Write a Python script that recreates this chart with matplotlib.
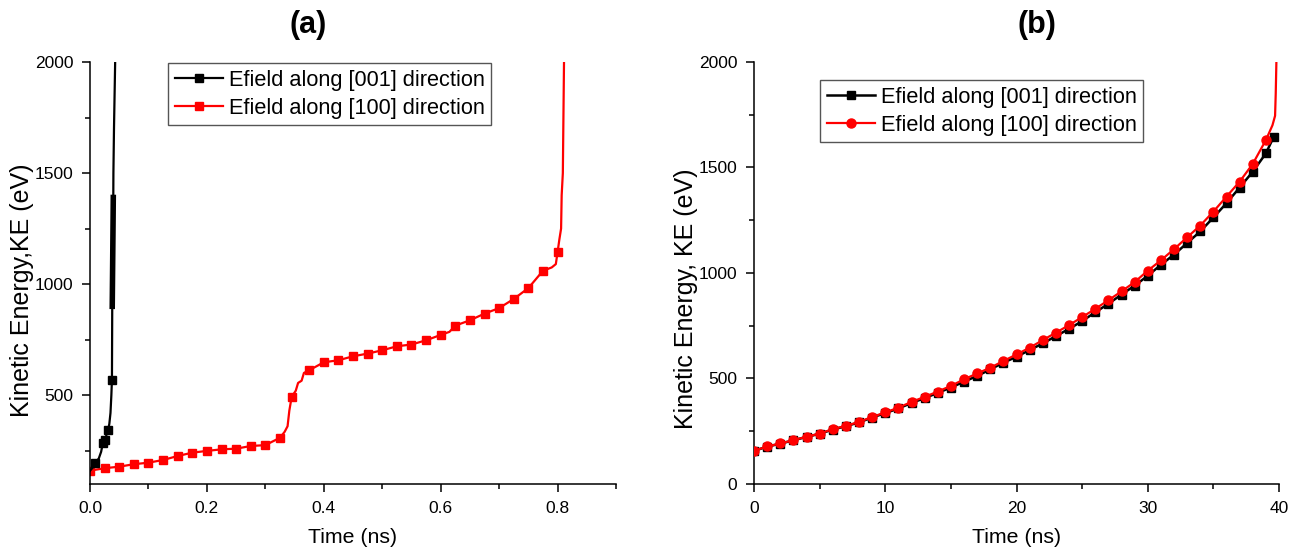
import numpy as np
import matplotlib.pyplot as plt
from matplotlib.ticker import MultipleLocator

plt.rcParams['font.family'] = ['Liberation Sans', 'DejaVu Sans']

# ---- panel (a): KE vs time, short time scale ----
a001_t = [0.0, 0.005, 0.009, 0.015, 0.019, 0.022, 0.026, 0.029, 0.031, 0.033, 0.035,
          0.0365, 0.0375, 0.038, 0.0383, 0.0386, 0.0389, 0.0392, 0.0395, 0.0398,
          0.040, 0.041, 0.042, 0.043]
a001_ke = [160, 175, 195, 215, 245, 285, 300, 330, 345, 370, 420,
           500, 570, 900, 980, 1060, 1140, 1220, 1300, 1390,
           1500, 1700, 1850, 2000]
a001_mark_t = [0.009, 0.022, 0.026, 0.031, 0.0375]
a001_dense = (0.038, 0.0398)   # densely sampled stretch drawn thicker

a100_t = [0.0, 0.025, 0.05, 0.075, 0.1, 0.125, 0.15, 0.175, 0.2, 0.225, 0.25, 0.275,
          0.3, 0.325, 0.333, 0.338, 0.341, 0.345, 0.352, 0.356, 0.362, 0.366, 0.375,
          0.4, 0.425, 0.45, 0.475, 0.5, 0.525, 0.55, 0.575, 0.6, 0.615, 0.625, 0.65,
          0.675, 0.7, 0.725, 0.75, 0.775, 0.79, 0.797, 0.8, 0.803, 0.806, 0.807,
          0.809, 0.811]
a100_ke = [160, 171, 178, 189, 196, 208, 226, 241, 249, 256, 259, 271,
           275, 308, 335, 360, 430, 492, 520, 555, 565, 600, 612,
           648, 657, 675, 687, 702, 720, 728, 747, 771, 785, 813, 837,
           867, 892, 933, 982, 1060, 1075, 1090, 1144, 1200, 1250, 1400,
           1500, 2000]
a100_mark_t = [0.0, 0.025, 0.05, 0.075, 0.1, 0.125, 0.15, 0.175, 0.2, 0.225, 0.25,
               0.275, 0.3, 0.325, 0.345, 0.375, 0.4, 0.425, 0.45, 0.475, 0.5, 0.525,
               0.55, 0.575, 0.6, 0.625, 0.65, 0.675, 0.7, 0.725, 0.75, 0.775, 0.8]

# ---- panel (b): KE vs time, long time scale ----
b001_t = list(range(40)) + [39.6]
b001_ke = [157, 177, 191, 207, 223, 238, 258, 274, 292, 315, 336, 358, 384, 407, 432,
           457, 485, 512, 543, 575, 603, 635, 666, 701, 735, 772, 814, 854, 898, 940,
           987, 1039, 1087, 1142, 1197, 1263, 1331, 1405, 1480, 1567, 1646]
b001_mark_t = b001_t

b100_t = list(range(40)) + [39.5, 39.7, 39.75, 39.8]
b100_ke = [157, 178, 192, 208, 224, 239, 260, 276, 294, 318, 339, 362, 389, 413, 438,
           465, 496, 524, 551, 583, 614, 646, 682, 717, 753, 791, 830, 871, 913, 957,
           1011, 1060, 1113, 1169, 1225, 1291, 1362, 1433, 1517, 1630, 1700, 1745,
           1850, 2000]
b100_mark_t = list(range(40))

LABEL_001 = "Efield along [001] direction"
LABEL_100 = "Efield along [100] direction"


def marks(t, mark_t):
    return list(np.flatnonzero(np.isin(np.array(t), np.array(mark_t))))


def style_axes(ax):
    for side in ("top", "right"):
        ax.spines[side].set_visible(False)
    for side in ("left", "bottom"):
        ax.spines[side].set_linewidth(1.1)
    ax.tick_params(which="major", direction="out", length=6, width=1.1,
                   labelsize=12.5, pad=6)
    ax.tick_params(which="minor", direction="out", length=3.5, width=1.1)


def add_legend(ax, x_px, y_px):
    ax.legend(loc="upper left", bbox_to_anchor=(x_px / 1301, 1 - y_px / 553),
              bbox_transform=fig.transFigure, fontsize=15.7, fancybox=False,
              edgecolor="#555555", framealpha=1, handlelength=2.2,
              borderpad=0.3, labelspacing=0.32, handletextpad=0.3,
              borderaxespad=0)


fig = plt.figure(figsize=(13.01, 5.53), dpi=100)
ax_a = fig.add_axes([0.0692, 0.1248, 0.4043, 0.7631])
ax_b = fig.add_axes([0.5796, 0.1248, 0.4035, 0.7631])

# (a)
ax_a.plot(a001_t, a001_ke, color="black", lw=1.6, marker="s", ms=5.5,
          markevery=marks(a001_t, a001_mark_t), label=LABEL_001, zorder=3)
t_arr = np.array(a001_t)
dense = (t_arr >= a001_dense[0]) & (t_arr <= a001_dense[1])
ax_a.plot(t_arr[dense], np.array(a001_ke)[dense], color="black", lw=4, zorder=3)
ax_a.plot(a100_t, a100_ke, color="red", lw=1.6, marker="s", ms=5.5,
          markevery=marks(a100_t, a100_mark_t), label=LABEL_100, zorder=2)

ax_a.set_xlim(0, 0.9)
ax_a.set_ylim(100, 2000)
ax_a.xaxis.set_major_locator(MultipleLocator(0.2))
ax_a.xaxis.set_minor_locator(MultipleLocator(0.1))
ax_a.yaxis.set_major_locator(MultipleLocator(500))
ax_a.yaxis.set_minor_locator(MultipleLocator(250))
ax_a.set_yticks([500, 1000, 1500, 2000])
ax_a.set_xlabel("Time (ns)", fontsize=15.3, labelpad=9)
ax_a.set_ylabel("Kinetic Energy,KE (eV)", fontsize=18)
ax_a.yaxis.set_label_coords(-0.107, 0.46)
style_axes(ax_a)
add_legend(ax_a, 168, 63)
fig.text(308 / 1301, 1 - 25 / 553, "(a)", fontsize=22, fontweight="bold",
         ha="center", va="center")

# (b)
ax_b.plot(b001_t, b001_ke, color="black", lw=1.8, marker="s", ms=6,
          markevery=marks(b001_t, b001_mark_t), label=LABEL_001, zorder=2)
ax_b.plot(b100_t, b100_ke, color="red", lw=1.6, marker="o", ms=6.5,
          markevery=marks(b100_t, b100_mark_t), label=LABEL_100, zorder=3)

ax_b.set_xlim(0, 40)
ax_b.set_ylim(0, 2000)
ax_b.xaxis.set_major_locator(MultipleLocator(10))
ax_b.xaxis.set_minor_locator(MultipleLocator(5))
ax_b.yaxis.set_major_locator(MultipleLocator(500))
ax_b.yaxis.set_minor_locator(MultipleLocator(250))
ax_b.set_xlabel("Time (ns)", fontsize=15.3, labelpad=9)
ax_b.set_ylabel("Kinetic Energy, KE (eV)", fontsize=18)
ax_b.yaxis.set_label_coords(-0.107, 0.44)
style_axes(ax_b)
add_legend(ax_b, 820, 80)
fig.text(1037 / 1301, 1 - 25 / 553, "(b)", fontsize=22, fontweight="bold",
         ha="center", va="center")

fig.savefig("out.png", dpi=100)
